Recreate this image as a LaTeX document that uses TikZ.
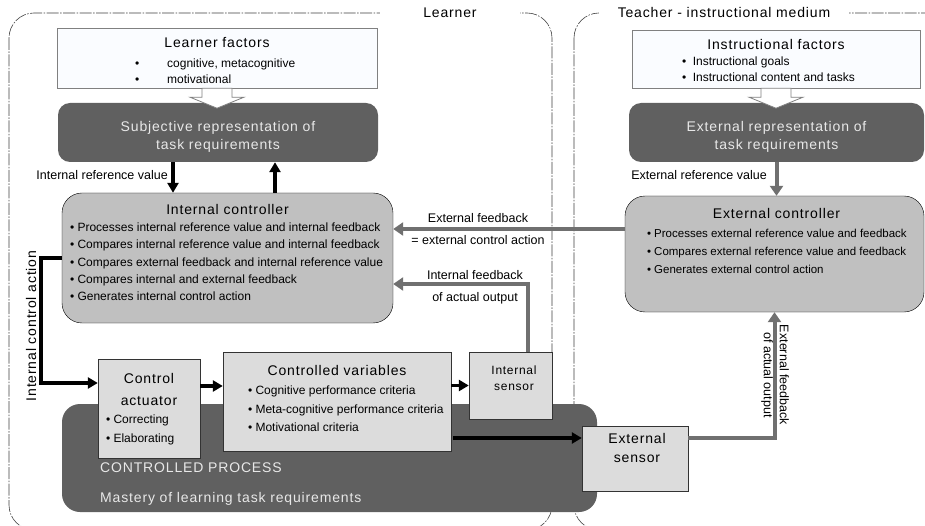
\documentclass[tikz,border=0pt]{standalone}
\usepackage{fontspec}
\setmainfont{Liberation Sans}
\newfontfamily\spacedfont[LetterSpace=6]{Liberation Sans}
\usetikzlibrary{arrows.meta,positioning}

\definecolor{darkbox}{RGB}{96,96,96}
\definecolor{midbox}{RGB}{192,192,192}
\definecolor{lightbox}{RGB}{220,220,220}
\definecolor{paper}{RGB}{250,252,255}
\definecolor{fbgray}{RGB}{112,112,112}
\definecolor{palegray}{RGB}{232,232,232}

\tikzstyle{factors} = [rectangle, draw=gray, fill=paper, inner sep=0pt]
\tikzstyle{representation} = [rectangle, rounded corners=12pt, fill=darkbox, inner sep=0pt]
\tikzstyle{controller} = [rectangle, rounded corners=20pt, draw=black, fill=midbox, inner sep=0pt]
\tikzstyle{element} = [rectangle, draw=black!80, fill=lightbox, inner sep=0pt]
\tikzstyle{process} = [rectangle, rounded corners=18pt, fill=darkbox, inner sep=0pt]
\tikzstyle{heading} = [font=\spacedfont\fontsize{14}{18}\selectfont, align=center, inner sep=0pt]
\tikzstyle{items} = [font=\fontsize{12}{17.3}\selectfont, align=left, anchor=north west, inner sep=0pt]
\tikzstyle{small} = [font=\fontsize{12.5}{22}\selectfont, align=center, inner sep=0pt]
\tikzstyle{region} = [draw=black!75, line width=0.6pt, rounded corners=25pt, dash pattern=on 12pt off 1.5pt on 1.5pt off 1.5pt]
\tikzstyle{regionlabel} = [heading, fill=white, minimum height=12pt]
\tikzstyle{control} = [line width=3.5pt, -{Triangle[length=10pt,width=11pt]}, draw=black]
\tikzstyle{feedback} = [line width=4pt, -{Triangle[length=10pt,width=13pt]}, draw=fbgray]
\tikzstyle{hollow} = [draw=gray, fill=white, line width=0.8pt]

\begin{document}
\begin{tikzpicture}[x=1pt,y=-1pt]

\path[fill=white] (0,0) rectangle (925,526);

	%Dashed regions for learner and teacher
	\begin{scope}
	\clip (0,0) rectangle (925,526);
	\draw[region] (9,13) rectangle (552,530);
	\draw[region] (574,13) rectangle (950,530);
	\end{scope}
	\node[regionlabel, minimum width=140pt](learner) at (450,13) {Learner};
	\node[regionlabel, minimum width=250pt](teacher) at (724,13) {Teacher - instructional medium};

	%Controlled process in the background
	\node[process, minimum width=535pt, minimum height=108pt](process) at (329.5,458) {};
	\node[heading, align=left, anchor=west, text=palegray, font=\spacedfont\fontsize{14}{30}\selectfont](process_text) at (100,484)
		{CONTROLLED PROCESS\\Mastery of learning task requirements};

	%Factor boxes
	\node[factors, minimum width=320pt, minimum height=60pt](learnfac) at (217,58) {};
	\node[heading](learnfac_title) at ([yshift=-15pt]learnfac.north) {Learner factors};
	\node[items, font=\fontsize{12}{15.5}\selectfont](learnfac_list) at (135,59)
		{\makebox[32pt][l]{\textbullet}cognitive, metacognitive\\
		 \makebox[32pt][l]{\textbullet}motivational};
	\node[factors, minimum width=288pt, minimum height=58pt](instrfac) at (776,59) {};
	\node[heading](instrfac_title) at ([yshift=-15pt]instrfac.north) {Instructional factors};
	\node[items, font=\fontsize{12}{16}\selectfont](instrfac_list) at (682,57)
		{\textbullet\hspace{6.5pt}Instructional goals\\
		 \textbullet\hspace{6.5pt}Instructional content and tasks};

	%Representations of the task requirements
	\node[representation, minimum width=320pt, minimum height=59pt](subjrep) at (218,132.5) {};
	\node[heading, text=palegray](subjrep_text) at (218,137) {Subjective representation of\\task requirements};
	\node[representation, minimum width=295pt, minimum height=59pt](extrep) at (776.5,132.5) {};
	\node[heading, text=palegray](extrep_text) at (776.5,137) {External representation of\\task requirements};

	%Hollow arrows from the factors
	\path[hollow] ([xshift=-15pt]learnfac.south) -- ++(0,9) -- ++(-12,0) -- ++(27,11) -- ++(27,-11) -- ++(-12,0) -- ++(0,-9) -- cycle;
	\path[hollow] ([xshift=-15pt]instrfac.south) -- ++(0,9) -- ++(-12,0) -- ++(27,11) -- ++(27,-11) -- ++(-12,0) -- ++(0,-9) -- cycle;

	%Controllers
	\node[controller, minimum width=331pt, minimum height=130pt](intctrl) at (227.5,258) {};
	\node[heading](intctrl_title) at ([yshift=-17pt]intctrl.north) {Internal controller};
	\node[items](intctrl_list) at ([xshift=8pt,yshift=-30pt]intctrl.north west)
		{\textbullet\ Processes internal reference value and internal feedback\\
		 \textbullet\ Compares internal reference value and internal feedback\\
		 \textbullet\ Compares external feedback and internal reference value\\
		 \textbullet\ Compares internal and external feedback\\
		 \textbullet\ Generates internal control action};
	\node[controller, minimum width=299pt, minimum height=116pt](extctrl) at (774.5,254) {};
	\node[heading](extctrl_title) at ([xshift=2pt,yshift=-18pt]extctrl.north) {External controller};
	\node[items, font=\fontsize{11.5}{18}\selectfont](extctrl_list) at ([xshift=22pt,yshift=-33pt]extctrl.north west)
		{\textbullet\ Processes external reference value and feedback\\
		 \textbullet\ Compares external reference value and feedback\\
		 \textbullet\ Generates external control action};

	%Actuator, controlled variables and sensors
	\node[element, minimum width=102pt, minimum height=99pt](actuator) at (149,408.5) {};
	\node[heading, font=\spacedfont\fontsize{14}{22}\selectfont](actuator_title) at (149,389) {Control\\actuator};
	\node[items, font=\fontsize{12}{19}\selectfont](actuator_list) at ([xshift=8pt,yshift=-56pt]actuator.north west)
		{\textbullet\ Correcting\\ \textbullet\ Elaborating};
	\node[element, minimum width=228pt, minimum height=99pt](ctrlvar) at (337,401.5) {};
	\node[heading](ctrlvar_title) at ([yshift=-19pt]ctrlvar.north) {Controlled variables};
	\node[items, font=\fontsize{12}{18.5}\selectfont](ctrlvar_list) at ([xshift=25pt,yshift=-34pt]ctrlvar.north west)
		{\textbullet\ Cognitive performance criteria\\
		 \textbullet\ Meta-cognitive performance criteria\\
		 \textbullet\ Motivational criteria};
	\node[element, minimum width=83pt, minimum height=67pt](intsens) at (510.5,385.5) {};
	\node[heading, font=\spacedfont\fontsize{12}{16}\selectfont](intsens_text) at (514,378) {Internal\\sensor};
	\node[element, minimum width=106pt, minimum height=65pt](extsens) at (635,458.5) {};
	\node[heading, font=\spacedfont\fontsize{14}{19}\selectfont](extsens_text) at (637,448) {External\\sensor};

	%Black arrows of the learner loop
	\path[control] ([xshift=-45pt]subjrep.south) -- ([xshift=-45pt]subjrep.south |- intctrl.north);
	\path[control] ([xshift=57pt]subjrep.south |- intctrl.north) -- ([xshift=57pt]subjrep.south);
	\path[control] (intctrl.west) -- ++(-21,0) |- ([yshift=25.5pt]actuator.west);
	\path[control] ([yshift=22.5pt]actuator.east) -- ([yshift=22.5pt]actuator.east -| ctrlvar.west);
	\path[control] (ctrlvar.east |- intsens.west) -- (intsens.west);
	\path[control] ([xshift=2pt,yshift=20.5pt]extsens.west -| ctrlvar.east) -- ([yshift=20.5pt]extsens.west);

	%Grey feedback arrows
	\path[feedback] ([xshift=17.5pt]intsens.north) |- ([yshift=-26pt]intctrl.east);
	\path[feedback] ([yshift=25pt]extctrl.west) -- ([yshift=25pt]extctrl.west -| intctrl.east);
	\path[feedback] (extrep.south) -- (extrep.south |- extctrl.north);
	\path[feedback] ([yshift=20.5pt]extsens.east) -| (extctrl.south);

	%Labels of the arrows
	\node[small, anchor=east](intref_label) at (168,175) {Internal reference value};
	\node[small, anchor=east](extref_label) at (767,175) {External reference value};
	\node[heading, rotate=90](intaction_label) at (31,326) {Internal control action};
	\node[small](extfb_label) at (478,229) {External feedback\\= external control action};
	\node[small](intfb_label) at (475,287) {Internal feedback\\of actual output};
	\node[small, rotate=-90, font=\fontsize{12.5}{16}\selectfont](extout_label) at (775,375) {External feedback\\of actual output};

\end{tikzpicture}
\end{document}
